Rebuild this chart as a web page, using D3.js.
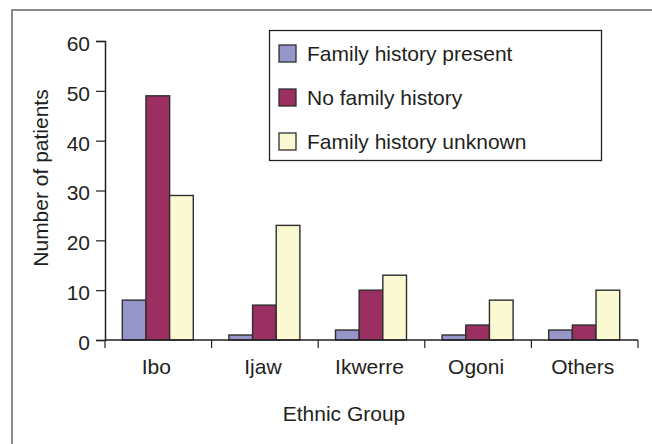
<!DOCTYPE html>
<html>
<head>
<meta charset="utf-8">
<script src="https://cdn.jsdelivr.net/npm/d3@7"></script>
<style>
  body { margin: 0; background: #fff; }
  text { font-family: "Liberation Sans", Arial, sans-serif; fill: #231f20; }
</style>
</head>
<body>
<div id="chart"></div>
<script>
var w = 652, h = 444;

// data
var groups = ["Ibo", "Ijaw", "Ikwerre", "Ogoni", "Others"];
var seriesNames = ["Family history present", "No family history", "Family history unknown"];
var present = [8, 1, 2, 1, 2];
var noHistory = [49, 7, 10, 3, 3];
var unknown = [29, 23, 13, 8, 10];
var yTicks = [0, 10, 20, 30, 40, 50, 60];
var colors = ["#9696c8", "#9b2f62", "#fbf9d2"];

var series = [present, noHistory, unknown];

var svg = d3.select("#chart").append("svg")
    .attr("width", w).attr("height", h);

// outer frame (only left and top show)
svg.append("path")
    .attr("d", "M12,444 V10 H652")
    .attr("fill", "none")
    .attr("stroke", "#8c8c8c")
    .attr("stroke-width", 2);

var plotL = 105, plotR = 638, plotT = 41, plotB = 340;

var x = d3.scaleBand().domain(groups).range([plotL, plotR]);
var xs = d3.scaleBand().domain(d3.range(3)).range([0, 71]);
var y = d3.scaleLinear().domain([0, 60]).range([plotB, plotT]);

// bars
var g = svg.append("g");
groups.forEach(function (grp, i) {
    var cx = x(grp) + x.bandwidth() / 2 - 36;
    series.forEach(function (vals, s) {
        g.append("rect")
            .attr("x", cx + xs(s))
            .attr("y", y(vals[i]))
            .attr("width", xs.bandwidth())
            .attr("height", y(0) - y(vals[i]))
            .attr("fill", colors[s])
            .attr("stroke", "#2e2e2e")
            .attr("stroke-width", 1.4);
    });
});

// y axis
var yAxis = svg.append("g")
    .attr("transform", "translate(" + plotL + ",0)")
    .call(d3.axisLeft(y).tickValues(yTicks).tickSize(9).tickPadding(6));
yAxis.selectAll("text").attr("font-size", "21px").attr("dy", "0.45em")
    .attr("font-family", "Liberation Sans, Arial, sans-serif").attr("fill", "#231f20");

// x axis
var xAxis = svg.append("g")
    .attr("transform", "translate(0," + plotB + ")");
xAxis.append("line")
    .attr("x1", plotL).attr("x2", plotR)
    .attr("stroke", "#222").attr("stroke-width", 1.5);
xAxis.selectAll("line.tick")
    .data(groups.map(function (d) { return x(d); }).concat([plotR]))
    .enter().append("line")
    .attr("class", "tick")
    .attr("x1", d => d).attr("x2", d => d)
    .attr("y1", 0).attr("y2", 8)
    .attr("stroke", "#222").attr("stroke-width", 1.2);
xAxis.selectAll("text")
    .data(groups).enter().append("text")
    .attr("x", d => x(d) + x.bandwidth() / 2 - 2)
    .attr("y", 34)
    .attr("text-anchor", "middle")
    .attr("font-size", "21px")
    .text(d => d);

svg.selectAll(".domain").attr("stroke", "#222").attr("stroke-width", 1.5);
yAxis.selectAll(".tick line").attr("stroke", "#222").attr("stroke-width", 1.2);

// axis titles
svg.append("text")
    .attr("transform", "translate(48,178) rotate(-90)")
    .attr("text-anchor", "middle")
    .attr("font-size", "21px")
    .text("Number of patients");

svg.append("text")
    .attr("x", 344).attr("y", 421)
    .attr("text-anchor", "middle")
    .attr("font-size", "21px")
    .text("Ethnic Group");

// legend
var legend = svg.append("g");
legend.append("rect")
    .attr("x", 269.5).attr("y", 30.5)
    .attr("width", 332).attr("height", 130)
    .attr("fill", "#fff")
    .attr("stroke", "#222").attr("stroke-width", 1.3);
seriesNames.forEach(function (name, i) {
    var ly = 45 + i * 44;
    legend.append("rect")
        .attr("x", 279).attr("y", ly)
        .attr("width", 17).attr("height", 17)
        .attr("fill", colors[i])
        .attr("stroke", "#2e2e2e").attr("stroke-width", 1.3);
    legend.append("text")
        .attr("x", 307).attr("y", ly + 16)
        .attr("font-size", "21px")
        .text(name);
});
</script>
</body>
</html>
